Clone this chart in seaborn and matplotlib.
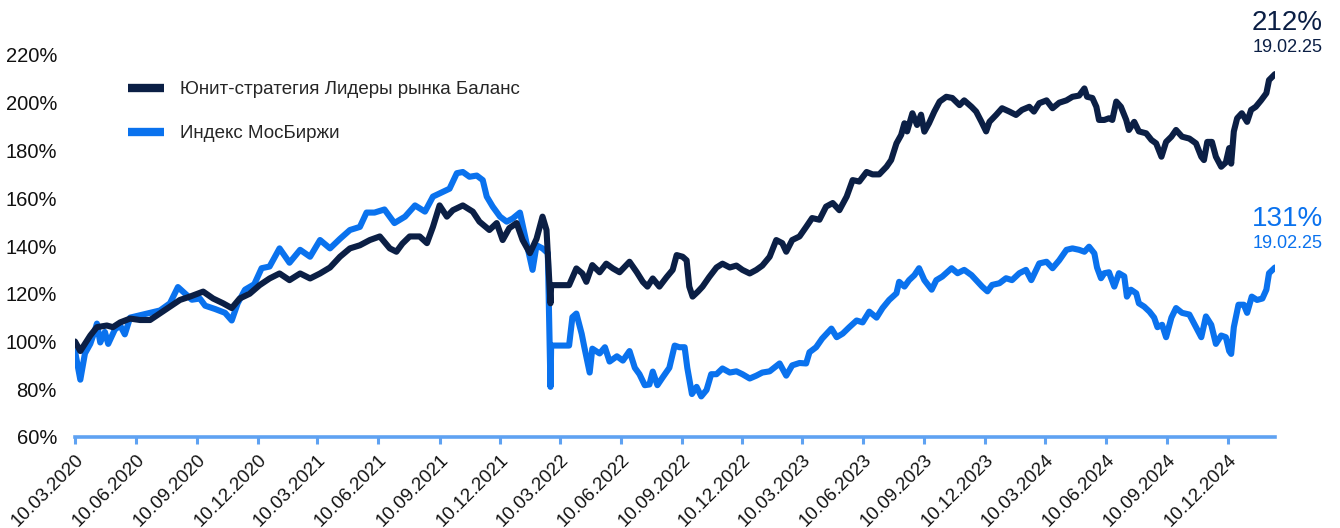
import pandas as pd
import matplotlib
matplotlib.use("Agg")
import matplotlib.pyplot as plt
import matplotlib.dates as mdates
from matplotlib.ticker import FuncFormatter
from matplotlib.lines import Line2D
import seaborn as sns

# ---------------- data ----------------
strategy_dates = [
    "2020-03-10", "2020-03-18", "2020-03-25", "2020-04-02", "2020-04-12", "2020-04-27", "2020-05-06", "2020-05-17",
    "2020-06-01", "2020-06-16", "2020-07-01", "2020-07-16", "2020-07-31", "2020-08-15", "2020-08-30", "2020-09-19",
    "2020-10-04", "2020-10-19", "2020-11-01", "2020-11-13", "2020-11-28", "2020-12-13", "2020-12-28", "2021-01-12",
    "2021-01-27", "2021-02-12", "2021-02-27", "2021-03-14", "2021-03-29", "2021-04-13", "2021-04-28", "2021-05-13",
    "2021-05-28", "2021-06-12", "2021-06-27", "2021-07-07", "2021-07-16", "2021-07-27", "2021-08-11", "2021-08-22",
    "2021-08-31", "2021-09-10", "2021-09-21", "2021-09-30", "2021-10-15", "2021-10-30", "2021-11-09", "2021-11-24",
    "2021-12-05", "2021-12-14", "2021-12-24", "2022-01-04", "2022-01-13", "2022-01-24", "2022-02-03", "2022-02-12",
    "2022-02-18", "2022-02-24", "2022-02-25", "2022-03-24", "2022-04-04", "2022-04-13", "2022-04-19", "2022-04-28",
    "2022-05-09", "2022-05-19", "2022-05-29", "2022-06-08", "2022-06-23", "2022-07-04", "2022-07-13", "2022-07-20",
    "2022-07-28", "2022-08-07", "2022-08-18", "2022-08-27", "2022-09-02", "2022-09-11", "2022-09-17", "2022-09-21",
    "2022-09-26", "2022-10-04", "2022-10-11", "2022-10-21", "2022-11-01", "2022-11-10", "2022-11-21", "2022-12-01",
    "2022-12-10", "2022-12-21", "2022-12-31", "2023-01-09", "2023-01-20", "2023-01-30", "2023-02-08", "2023-02-14",
    "2023-02-23", "2023-03-06", "2023-03-16", "2023-03-25", "2023-04-05", "2023-04-15", "2023-04-25", "2023-05-05",
    "2023-05-16", "2023-05-25", "2023-06-04", "2023-06-15", "2023-06-24", "2023-07-04", "2023-07-15", "2023-07-22",
    "2023-07-30", "2023-08-06", "2023-08-11", "2023-08-15", "2023-08-23", "2023-08-30", "2023-09-05", "2023-09-10",
    "2023-09-17", "2023-09-25", "2023-10-03", "2023-10-13", "2023-10-22", "2023-11-02", "2023-11-09", "2023-11-20",
    "2023-11-27", "2023-12-05", "2023-12-12", "2023-12-17", "2023-12-27", "2024-01-05", "2024-01-16", "2024-01-26",
    "2024-02-04", "2024-02-15", "2024-02-22", "2024-03-01", "2024-03-12", "2024-03-21", "2024-03-31", "2024-04-11",
    "2024-04-20", "2024-04-30", "2024-05-08", "2024-05-12", "2024-05-20", "2024-05-26", "2024-05-30", "2024-06-07",
    "2024-06-14", "2024-06-19", "2024-06-25", "2024-07-02", "2024-07-10", "2024-07-14", "2024-07-22", "2024-07-29",
    "2024-08-09", "2024-08-17", "2024-08-24", "2024-09-01", "2024-09-08", "2024-09-16", "2024-09-23", "2024-10-02",
    "2024-10-13", "2024-10-23", "2024-10-31", "2024-11-04", "2024-11-09", "2024-11-16", "2024-11-22", "2024-11-30",
    "2024-12-07", "2024-12-12", "2024-12-15", "2024-12-19", "2024-12-24", "2024-12-31", "2025-01-08", "2025-01-14",
    "2025-01-21", "2025-01-29", "2025-02-06", "2025-02-10", "2025-02-19",
]
strategy_values = [
    100, 96, 99, 102.5, 106, 106.7, 106, 108,
    109.6, 109, 109, 111.8, 114.6, 117.4, 118.8, 120.9,
    118, 116, 114, 118, 120, 123.6, 126.4, 128.5,
    125.7, 128.5, 126.4, 128.5, 131, 135.5, 139, 140.3,
    142.5, 144, 139, 137.6, 141, 144, 144, 141.2,
    148, 157, 152.3, 155, 157, 154.4, 150.2, 146.7,
    149.6, 142.5, 147.5, 149.6, 142.5, 137, 143, 152.3,
    146.7, 116, 123.6, 123.6, 130.6, 128.5, 125, 132,
    129, 132.6, 130.6, 129, 133.4, 129, 125, 123,
    126.4, 123, 127, 130, 136.2, 135.5, 134, 123,
    118.8, 120.9, 123, 127, 131, 132.6, 131, 131.8,
    130, 128.5, 130, 131.8, 135.5, 142.5, 141.2, 137.6,
    142.5, 144, 148, 151.7, 151, 156.5, 158, 155,
    160.7, 167.6, 167, 171, 170, 170, 173.2, 176,
    183, 186.5, 191.4, 188, 195.6, 190.7, 195, 187.9,
    191.4, 196.3, 200.5, 202.5, 202, 199, 201, 198.3,
    196.3, 192, 188, 192, 194.9, 197.7, 196.3, 194.9,
    197, 198.3, 196.3, 199.8, 201, 197.7, 200, 201,
    202.5, 203, 206, 202.5, 202, 198.3, 192.8, 192.8,
    193.5, 192.8, 200.5, 198.3, 192.8, 188.6, 192, 188,
    187.2, 184.4, 183, 177.4, 183.6, 185.8, 188.6, 185.8,
    185, 183, 177.4, 176, 183.6, 183.6, 177.4, 173.2,
    175, 181, 174.5, 188, 193.5, 195.6, 192, 197,
    198.3, 201, 204, 209.5, 212,
]

index_dates = [
    "2020-03-10", "2020-03-18", "2020-03-25", "2020-04-02", "2020-04-09", "2020-04-12", "2020-04-17", "2020-04-24",
    "2020-04-29", "2020-05-09", "2020-05-17", "2020-05-24", "2020-06-01", "2020-06-16", "2020-07-01", "2020-07-16",
    "2020-07-31", "2020-08-12", "2020-08-23", "2020-09-02", "2020-09-14", "2020-09-22", "2020-10-07", "2020-10-22",
    "2020-11-01", "2020-11-10", "2020-11-21", "2020-12-05", "2020-12-16", "2020-12-28", "2021-01-12", "2021-01-27",
    "2021-02-12", "2021-02-27", "2021-03-14", "2021-03-29", "2021-04-13", "2021-04-28", "2021-05-13", "2021-05-23",
    "2021-06-04", "2021-06-19", "2021-07-04", "2021-07-20", "2021-08-04", "2021-08-19", "2021-08-31", "2021-09-10",
    "2021-09-25", "2021-10-06", "2021-10-15", "2021-10-25", "2021-11-05", "2021-11-14", "2021-11-20", "2021-11-29",
    "2021-12-10", "2021-12-20", "2021-12-29", "2022-01-09", "2022-01-19", "2022-01-28", "2022-02-03", "2022-02-12",
    "2022-02-20", "2022-02-24", "2022-02-25", "2022-03-24", "2022-03-29", "2022-04-04", "2022-04-12", "2022-04-16",
    "2022-04-24", "2022-04-28", "2022-05-09", "2022-05-17", "2022-05-24", "2022-06-04", "2022-06-13", "2022-06-23",
    "2022-07-01", "2022-07-08", "2022-07-16", "2022-07-23", "2022-07-28", "2022-08-04", "2022-08-12", "2022-08-22",
    "2022-08-30", "2022-09-06", "2022-09-14", "2022-09-18", "2022-09-25", "2022-10-02", "2022-10-09", "2022-10-17",
    "2022-10-24", "2022-11-01", "2022-11-10", "2022-11-21", "2022-12-01", "2022-12-10", "2022-12-21", "2022-12-31",
    "2023-01-09", "2023-01-20", "2023-02-04", "2023-02-14", "2023-02-23", "2023-03-06", "2023-03-16", "2023-03-21",
    "2023-03-31", "2023-04-09", "2023-04-23", "2023-05-01", "2023-05-10", "2023-05-20", "2023-05-31", "2023-06-09",
    "2023-06-19", "2023-06-30", "2023-07-09", "2023-07-19", "2023-07-30", "2023-08-03", "2023-08-11", "2023-08-18",
    "2023-08-26", "2023-09-02", "2023-09-10", "2023-09-21", "2023-09-28", "2023-10-07", "2023-10-21", "2023-10-30",
    "2023-11-09", "2023-11-20", "2023-11-27", "2023-12-06", "2023-12-14", "2023-12-21", "2024-01-01", "2024-01-11",
    "2024-01-20", "2024-01-31", "2024-02-10", "2024-02-18", "2024-03-01", "2024-03-12", "2024-03-21", "2024-03-31",
    "2024-04-11", "2024-04-20", "2024-04-30", "2024-05-08", "2024-05-15", "2024-05-23", "2024-05-27", "2024-06-02",
    "2024-06-07", "2024-06-14", "2024-06-22", "2024-06-29", "2024-07-07", "2024-07-11", "2024-07-17", "2024-07-25",
    "2024-07-29", "2024-08-06", "2024-08-14", "2024-08-21", "2024-08-26", "2024-09-02", "2024-09-08", "2024-09-16",
    "2024-09-23", "2024-10-02", "2024-10-13", "2024-10-23", "2024-10-31", "2024-11-07", "2024-11-15", "2024-11-22",
    "2024-11-30", "2024-12-07", "2024-12-12", "2024-12-15", "2024-12-19", "2024-12-26", "2025-01-03", "2025-01-08",
    "2025-01-15", "2025-01-23", "2025-01-31", "2025-02-06", "2025-02-10", "2025-02-19",
]
index_values = [
    96, 84, 95, 99, 104.6, 107.5, 99.6, 104,
    99, 105, 106.7, 103, 110, 111, 112, 113,
    116, 122.8, 120, 117.5, 118, 115, 113.6, 112,
    108.8, 116, 121.7, 124, 130.7, 131.4, 139, 133,
    138.4, 135.5, 142.5, 139, 143, 146.7, 148, 154,
    154, 155.3, 149.6, 152.3, 157, 154.4, 160.7, 162,
    164, 170.5, 171, 169, 169.5, 167.6, 160.7, 156.5,
    152.3, 150.2, 151.5, 154, 141.2, 130, 140.3, 139,
    137, 81, 98.3, 98.3, 110.2, 111.7, 103.2, 97.6,
    87, 97, 95, 97.6, 91.6, 93.8, 92, 96,
    89, 86.3, 81.7, 82, 87.4, 81.7, 85, 89,
    98.3, 97.6, 97.6, 89, 78, 81, 77, 79.7,
    86.3, 86.3, 88.7, 87, 87.5, 86.3, 84.5, 85.7,
    87, 87.5, 90.8, 85.7, 90, 91, 90.8, 95.5,
    97.6, 101.2, 105.4, 101.8, 103.3, 106, 108.8, 108,
    112.5, 110, 114, 117.4, 120.2, 125, 123, 125.7,
    127.8, 130.7, 125.7, 121.7, 125.7, 127.2, 130.7, 128.6,
    130, 127.8, 125.7, 123, 121, 123.7, 124.4, 126.5,
    125.7, 128.6, 130, 125.7, 132.7, 133.4, 130.7, 134,
    138.4, 139, 138.4, 137.6, 139.7, 136.9, 131, 126.5,
    128.6, 129, 123, 128.6, 127.3, 118.8, 121.7, 120.2,
    116, 114.6, 112.5, 110, 106, 107, 101.8, 110,
    114, 112, 111.3, 106, 101.8, 110.5, 107, 99,
    102.5, 101.8, 96, 94.8, 106, 115.4, 115.4, 112,
    118.8, 117.4, 118, 121.7, 128.6, 131,
]

series_labels = ["Юнит-стратегия Лидеры рынка Баланс", "Индекс МосБиржи"]
strategy_end_label = "212%"
index_end_label = "131%"
end_date_label = "19.02.25"
y_ticks = [60, 80, 100, 120, 140, 160, 180, 200, 220]

# ---------------- styling ----------------
NAVY = "#0b1f45"
BLUE = "#0a72ee"
AXIS_BLUE = "#5fa2f2"

sns.set_style("white")
plt.rcParams["font.family"] = ["Liberation Sans", "DejaVu Sans"]

fig = plt.figure(figsize=(13.4, 5.28), dpi=100)
ax = fig.add_axes([75 / 1340, 91 / 528, 1200 / 1340, 382 / 528])

df_strategy = pd.DataFrame({"date": pd.to_datetime(strategy_dates), "value": strategy_values})
df_index = pd.DataFrame({"date": pd.to_datetime(index_dates), "value": index_values})

sns.lineplot(data=df_index, x="date", y="value", ax=ax, color=BLUE, linewidth=4.4,
             estimator=None, sort=False, solid_joinstyle="round", solid_capstyle="round")
sns.lineplot(data=df_strategy, x="date", y="value", ax=ax, color=NAVY, linewidth=4.4,
             estimator=None, sort=False, solid_joinstyle="round", solid_capstyle="round")

ax.set_xlim(pd.Timestamp("2020-03-10"), pd.Timestamp("2025-02-19"))
ax.set_ylim(60, 220)
ax.set_yticks(y_ticks)
ax.yaxis.set_major_formatter(FuncFormatter(lambda v, p: f"{v:.0f}%"))
ax.set_xlabel("")
ax.set_ylabel("")

ax.xaxis.set_major_locator(mdates.MonthLocator(bymonth=(3, 6, 9, 12), bymonthday=10))
ax.xaxis.set_major_formatter(mdates.DateFormatter("%d.%m.%Y"))

for s in ("left", "top", "right"):
    ax.spines[s].set_visible(False)
ax.spines["bottom"].set_color(AXIS_BLUE)
ax.spines["bottom"].set_linewidth(2.6)

ax.tick_params(axis="y", left=False, length=0, pad=13, labelsize=14.5, labelcolor="#111111")
ax.tick_params(axis="x", bottom=True, direction="out", length=5, width=2.2, color=AXIS_BLUE,
               labelsize=13.5, labelcolor="#111111", pad=5)
for lab in ax.get_xticklabels():
    lab.set_rotation(45)
    lab.set_ha("right")
    lab.set_rotation_mode("anchor")
ax.grid(False)

handles = [Line2D([0], [0], color=NAVY, lw=6, solid_capstyle="butt"),
           Line2D([0], [0], color=BLUE, lw=6, solid_capstyle="butt")]
ax.legend(handles, series_labels, loc="upper left", bbox_to_anchor=(128 / 1340, 1 - 81 / 528),
          bbox_transform=fig.transFigure, frameon=False, fontsize=13.5, handlelength=1.9,
          handletextpad=0.9, labelspacing=1.45, borderpad=0, borderaxespad=0)

end_date = pd.Timestamp(strategy_dates[-1])
ax.annotate(strategy_end_label, xy=(end_date, strategy_values[-1]), xytext=(9, 37),
            textcoords="offset points", ha="center", va="center", fontsize=20,
            color=NAVY, annotation_clip=False)
ax.annotate(end_date_label, xy=(end_date, strategy_values[-1]), xytext=(9, 19),
            textcoords="offset points", ha="center", va="center", fontsize=13,
            color=NAVY, annotation_clip=False)
ax.annotate(index_end_label, xy=(end_date, index_values[-1]), xytext=(9, 35),
            textcoords="offset points", ha="center", va="center", fontsize=20,
            color=BLUE, annotation_clip=False)
ax.annotate(end_date_label, xy=(end_date, index_values[-1]), xytext=(9, 17),
            textcoords="offset points", ha="center", va="center", fontsize=13,
            color=BLUE, annotation_clip=False)

fig.savefig("out.png", dpi=100)
